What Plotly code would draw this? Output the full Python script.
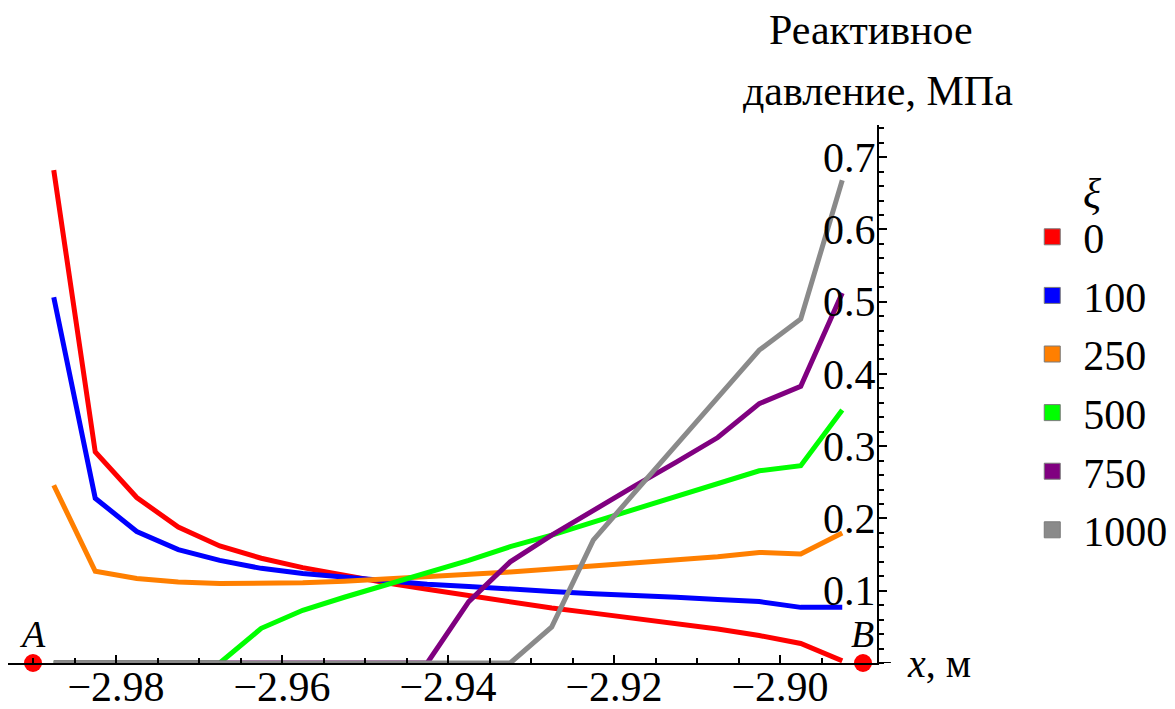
import plotly.graph_objects as go

# ---- data ----
x_vals = [-2.9875, -2.9825, -2.9775, -2.9725, -2.9675, -2.9625, -2.9575, -2.9525,
          -2.9475, -2.9425, -2.9375, -2.9325, -2.9275, -2.9225, -2.9175, -2.9125,
          -2.9075, -2.9025, -2.8975, -2.8925]

xi_labels = ["0", "100", "250", "500", "750", "1000"]

p_0 = [0.682, 0.292, 0.229, 0.188, 0.162, 0.145, 0.132, 0.121, 0.111, 0.102,
       0.093, 0.084, 0.076, 0.069, 0.062, 0.055, 0.047, 0.038, 0.027, 0.003]
p_100 = [0.506, 0.228, 0.182, 0.157, 0.142, 0.131, 0.124, 0.119, 0.114, 0.109,
         0.106, 0.102, 0.099, 0.096, 0.094, 0.091, 0.088, 0.085, 0.077, 0.077]
p_250 = [0.246, 0.127, 0.117, 0.112, 0.110, 0.110, 0.111, 0.113, 0.116, 0.119,
         0.122, 0.126, 0.130, 0.134, 0.138, 0.142, 0.147, 0.153, 0.151, 0.180]
p_500 = [0.0, 0.0, 0.0, 0.0, 0.0, 0.048, 0.073, 0.091, 0.108, 0.126,
         0.142, 0.161, 0.177, 0.195, 0.213, 0.231, 0.248, 0.266, 0.273, 0.350]
p_750 = [0.0, 0.0, 0.0, 0.0, 0.0, 0.0, 0.0, 0.0, 0.0, 0.0,
         0.085, 0.140, 0.177, 0.212, 0.245, 0.278, 0.312, 0.359, 0.383, 0.512]
p_1000 = [0.0, 0.0, 0.0, 0.0, 0.0, 0.0, 0.0, 0.0, 0.0, 0.0,
          0.0, 0.0, 0.050, 0.170, 0.236, 0.302, 0.368, 0.433, 0.476, 0.668]

series = [p_0, p_100, p_250, p_500, p_750, p_1000]
colors = ["#FF0000", "#0000FF", "#FF7F00", "#00FF00", "#800080", "#8A8A8A"]

point_x = [-2.99, -2.89]
point_y = [0.0, 0.0]
point_labels = ["A", "B"]

x_ticks = [-2.98, -2.96, -2.94, -2.92, -2.90]
y_ticks = [0.1, 0.2, 0.3, 0.4, 0.5, 0.6, 0.7]

FONT = "Liberation Serif, Times New Roman, DejaVu Serif, serif"

fig = go.Figure()

for i, (ys, c) in enumerate(zip(series, colors)):
    fig.add_trace(go.Scatter(x=x_vals, y=ys, mode="lines",
                             line=dict(color=c, width=5),
                             showlegend=False, cliponaxis=False, hoverinfo="skip"))

# legend entries (square swatches)
for i, (lab, c) in enumerate(zip(xi_labels, colors)):
    fig.add_trace(go.Scatter(x=[None], y=[None], mode="markers", name=lab,
                             legendgroup=lab,
                             marker=dict(symbol="square", size=16, color=c,
                                         line=dict(color="#7a7a7a", width=1))))

# points A and B
fig.add_trace(go.Scatter(x=point_x, y=point_y, mode="markers",
                         marker=dict(color="#FF0000", size=18),
                         showlegend=False, cliponaxis=False))

for px, lab in zip(point_x, point_labels):
    fig.add_annotation(x=px, y=0, xref="x", yref="y", text=f"<i>{lab}</i>",
                       showarrow=False, yshift=29, xshift=-1,
                       font=dict(family=FONT, size=38, color="black"))

# page body has an 8px margin: figure is offset by (8, 8)
fig.update_layout(
    width=1167, height=701,
    margin=dict(l=0, r=298, t=117, b=46),
    paper_bgcolor="white", plot_bgcolor="white",
    font=dict(family=FONT, size=42, color="black"),
    legend=dict(x=1.166, y=0.855, xanchor="left", yanchor="top",
                font=dict(family=FONT, size=42, color="black"), tracegroupgap=1,
                bgcolor="rgba(0,0,0,0)", itemwidth=52),
    xaxis=dict(range=[-2.993012, -2.888313], showgrid=False, zeroline=False,
               showline=True, linecolor="black", linewidth=2,
               tickvals=x_ticks, tickformat=".2f", ticks="inside", ticklen=8,
               tickcolor="black", tickwidth=1.5, automargin=False,
               ticklabelstandoff=-14,
               tickfont=dict(family=FONT, size=42, color="black"),
               minor=dict(dtick=0.005, tick0=-2.98, ticks="inside", ticklen=5,
                          tickcolor="black", tickwidth=1.5)),
    yaxis=dict(range=[0, 0.7445], side="right", showgrid=False, zeroline=False,
               showline=True, linecolor="black", linewidth=2,
               tickvals=y_ticks, tickformat=".1f", ticks="outside", ticklen=8,
               ticklabelposition="inside", ticklabelstandoff=7,
               tickcolor="black", tickwidth=1.5,
               automargin=False, tickfont=dict(family=FONT, size=42, color="black"),
               minor=dict(dtick=0.02, tick0=0, ticks="outside", ticklen=5,
                          tickcolor="black", tickwidth=1.5)),
)

# x-axis extension past the y-axis
fig.add_shape(type="line", xref="paper", yref="y", x0=1.0, x1=1.016, y0=0, y1=0,
              line=dict(color="black", width=2))

# axis titles
fig.add_annotation(xref="paper", yref="paper", x=1.032, y=0.0,
                   xanchor="left", yanchor="middle", showarrow=False,
                   text="<i>x</i>, м", font=dict(family=FONT, size=40, color="black"))
fig.add_annotation(xref="paper", yref="paper", x=0.993, y=1.176,
                   xanchor="center", yanchor="middle", showarrow=False,
                   text="Реактивное", font=dict(family=FONT, size=42, color="black"))
fig.add_annotation(xref="paper", yref="paper", x=1.001, y=1.064,
                   xanchor="center", yanchor="middle", showarrow=False,
                   text="давление, МПа", font=dict(family=FONT, size=42, color="black"))
# legend title
fig.add_annotation(xref="paper", yref="paper", x=1.2474, y=0.872,
                   xanchor="center", yanchor="middle", showarrow=False,
                   text="<i>ξ</i>", font=dict(family=FONT, size=42, color="black"))

fig.write_html("out.html")
